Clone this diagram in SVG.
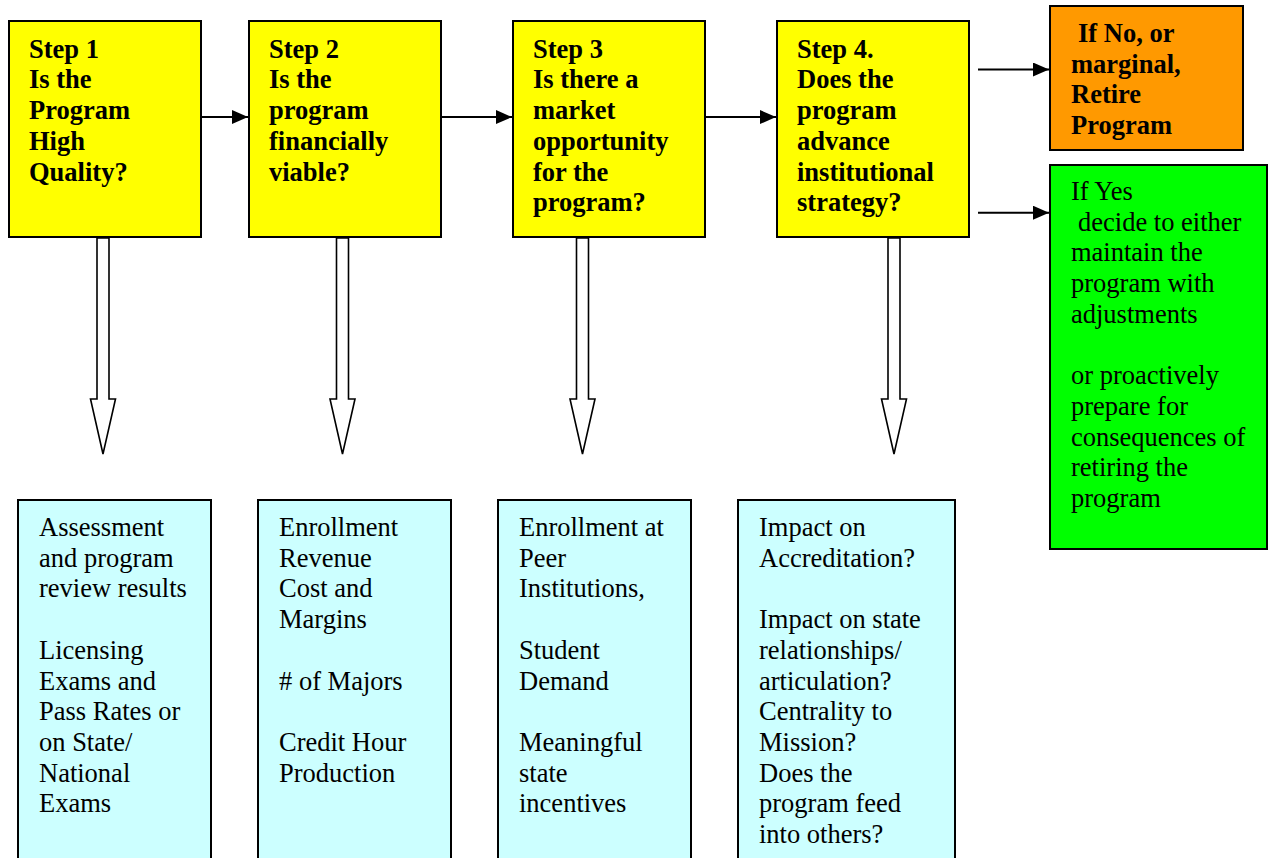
<svg xmlns="http://www.w3.org/2000/svg" width="1273" height="858" viewBox="0 0 1273 858">
<style>
.box{stroke:#000;stroke-width:2}
.yel{fill:#FFFF00}
.org{fill:#FF9900}
.grn{fill:#00FF00}
.cyn{fill:#CCFFFF}
.b{font-family:"Liberation Serif","Times New Roman",serif;font-size:26.5px;font-weight:bold;fill:#000}
.r{font-family:"Liberation Serif","Times New Roman",serif;font-size:26.5px;fill:#000}
.conn{stroke:#000;stroke-width:2;fill:none}
.hollow{fill:#fff;stroke:#000;stroke-width:1.6;stroke-linejoin:miter}
</style>
<defs>
<marker id="ah" markerWidth="16" markerHeight="14" refX="16" refY="7" orient="auto" markerUnits="userSpaceOnUse">
<path d="M0,0 L16,7 L0,14 z" fill="#000"/>
</marker>
</defs>
<rect width="1273" height="858" fill="#fff"/>

<g id="step1">
<rect class="box yel" x="9" y="21" width="192" height="216"/>
<text class="b" x="29"><tspan x="29" y="57.7">Step 1</tspan><tspan x="29" y="88.4">Is the</tspan><tspan x="29" y="119.1">Program</tspan><tspan x="29" y="149.8">High</tspan><tspan x="29" y="180.5">Quality?</tspan></text>
</g>
<g id="step2">
<rect class="box yel" x="249" y="21" width="192" height="216"/>
<text class="b"><tspan x="269" y="57.7">Step 2</tspan><tspan x="269" y="88.4">Is the</tspan><tspan x="269" y="119.1">program</tspan><tspan x="269" y="149.8">financially</tspan><tspan x="269" y="180.5">viable?</tspan></text>
</g>
<g id="step3">
<rect class="box yel" x="513" y="21" width="192" height="216"/>
<text class="b"><tspan x="533" y="57.7">Step 3</tspan><tspan x="533" y="88.4">Is there a</tspan><tspan x="533" y="119.1">market</tspan><tspan x="533" y="149.8">opportunity</tspan><tspan x="533" y="180.5">for the</tspan><tspan x="533" y="211.2">program?</tspan></text>
</g>
<g id="step4">
<rect class="box yel" x="777" y="21" width="192" height="216"/>
<text class="b"><tspan x="797" y="57.7">Step 4.</tspan><tspan x="797" y="88.4">Does the</tspan><tspan x="797" y="119.1">program</tspan><tspan x="797" y="149.8">advance</tspan><tspan x="797" y="180.5">institutional</tspan><tspan x="797" y="211.2">strategy?</tspan></text>
</g>
<g id="retire">
<rect class="box org" x="1050" y="6" width="193" height="144"/>
<text class="b"><tspan x="1078" y="42">If No, or</tspan><tspan x="1071" y="72.7">marginal,</tspan><tspan x="1071" y="103.4">Retire</tspan><tspan x="1071" y="134.1">Program</tspan></text>
</g>
<g id="keep">
<rect class="box grn" x="1050" y="165" width="217" height="384"/>
<text class="r"><tspan x="1071" y="200">If Yes</tspan><tspan x="1078" y="230.7">decide to either</tspan><tspan x="1071" y="261.4">maintain the</tspan><tspan x="1071" y="292.1">program with</tspan><tspan x="1071" y="322.8">adjustments</tspan><tspan x="1071" y="384.2">or proactively</tspan><tspan x="1071" y="414.9">prepare for</tspan><tspan x="1071" y="445.6">consequences of</tspan><tspan x="1071" y="476.3">retiring the</tspan><tspan x="1071" y="507">program</tspan></text>
</g>
<g id="detail1">
<rect class="box cyn" x="18" y="500" width="193" height="380"/>
<text class="r"><tspan x="39" y="536">Assessment</tspan><tspan x="39" y="566.7">and program</tspan><tspan x="39" y="597.4">review results</tspan><tspan x="39" y="658.8">Licensing</tspan><tspan x="39" y="689.5">Exams and</tspan><tspan x="39" y="720.2">Pass Rates or</tspan><tspan x="39" y="750.9">on State/</tspan><tspan x="39" y="781.6">National</tspan><tspan x="39" y="812.3">Exams</tspan></text>
</g>
<g id="detail2">
<rect class="box cyn" x="258" y="500" width="193" height="380"/>
<text class="r"><tspan x="279" y="536">Enrollment</tspan><tspan x="279" y="566.7">Revenue</tspan><tspan x="279" y="597.4">Cost and</tspan><tspan x="279" y="628.1">Margins</tspan><tspan x="279" y="689.5"># of Majors</tspan><tspan x="279" y="750.9">Credit Hour</tspan><tspan x="279" y="781.6">Production</tspan></text>
</g>
<g id="detail3">
<rect class="box cyn" x="498" y="500" width="193" height="380"/>
<text class="r"><tspan x="519" y="536">Enrollment at</tspan><tspan x="519" y="566.7">Peer</tspan><tspan x="519" y="597.4">Institutions,</tspan><tspan x="519" y="658.8">Student</tspan><tspan x="519" y="689.5">Demand</tspan><tspan x="519" y="750.9">Meaningful</tspan><tspan x="519" y="781.6">state</tspan><tspan x="519" y="812.3">incentives</tspan></text>
</g>
<g id="detail4">
<rect class="box cyn" x="738" y="500" width="217" height="380"/>
<text class="r"><tspan x="759" y="536">Impact on</tspan><tspan x="759" y="566.7">Accreditation?</tspan><tspan x="759" y="628.1">Impact on state</tspan><tspan x="759" y="658.8">relationships/</tspan><tspan x="759" y="689.5">articulation?</tspan><tspan x="759" y="720.2">Centrality to</tspan><tspan x="759" y="750.9">Mission?</tspan><tspan x="759" y="781.6">Does the</tspan><tspan x="759" y="812.3">program feed</tspan><tspan x="759" y="843">into others?</tspan></text>
</g>

<g id="connectors">
<line class="conn" x1="202" y1="117" x2="248" y2="117" marker-end="url(#ah)"/>
<line class="conn" x1="442" y1="117" x2="512" y2="117" marker-end="url(#ah)"/>
<line class="conn" x1="706" y1="117" x2="776" y2="117" marker-end="url(#ah)"/>
<line class="conn" x1="978" y1="69.5" x2="1049" y2="69.5" marker-end="url(#ah)"/>
<line class="conn" x1="978" y1="212.7" x2="1049" y2="212.7" marker-end="url(#ah)"/>
<polygon class="hollow" points="97,238 109,238 109,399 115.5,399 103,454 90.5,399 97,399"/>
<polygon class="hollow" points="336.5,238 348.5,238 348.5,399 355,399 342.5,454 330,399 336.5,399"/>
<polygon class="hollow" points="576.5,238 588.5,238 588.5,399 595,399 582.5,454 570,399 576.5,399"/>
<polygon class="hollow" points="888,238 900,238 900,399 906.5,399 894,454 881.5,399 888,399"/>
</g>
</svg>
